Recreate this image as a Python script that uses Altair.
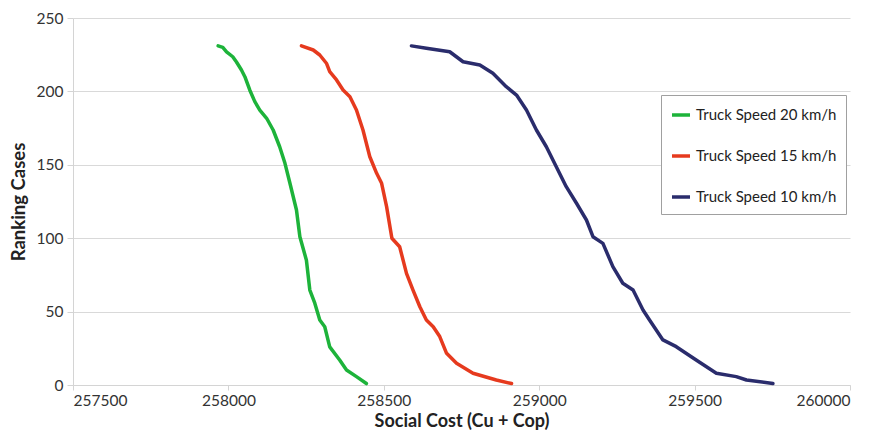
import altair as alt
import pandas as pd

series_names = ["Truck Speed 20 km/h", "Truck Speed 15 km/h", "Truck Speed 10 km/h"]
series_colors = ["#1db33a", "#e63a1e", "#2a2c6c"]

cost_20 = [257967, 257982, 257994, 258014, 258026, 258042, 258053, 258069, 258085, 258101,
           258123, 258144, 258165, 258182, 258198, 258219, 258230, 258251, 258262, 258278,
           258294, 258310, 258326, 258358, 258380, 258412, 258444]
rank_20 = [231, 230, 227, 223.6, 220, 214.6, 210, 200.8, 193, 187.3,
           181.7, 173.7, 162.3, 151, 137.4, 119.2, 101, 85, 64.7, 55.7,
           44.3, 39.7, 26, 17, 10.2, 5.7, 1]

cost_15 = [258235, 258273, 258294, 258316, 258326, 258348, 258369, 258391, 258412, 258433,
           258455, 258477, 258493, 258509, 258526, 258551, 258573, 258594, 258616, 258637,
           258659, 258680, 258702, 258734, 258787, 258862, 258911]
rank_15 = [231, 228.2, 224.8, 219, 213.4, 207.8, 201, 196.4, 187.3, 173.7,
           155.5, 144.2, 137.4, 121.5, 100, 94.2, 76, 64.7, 53.3, 44.3,
           39.7, 33, 21.6, 14.8, 8, 3.4, 1]

cost_10 = [258589, 258637, 258712, 258755, 258809, 258851, 258894, 258927, 258959, 258991,
           259023, 259055, 259087, 259120, 259152, 259173, 259205, 259237, 259269, 259302,
           259334, 259355, 259398, 259441, 259505, 259570, 259634, 259667, 259752]
rank_10 = [231, 229.4, 227, 220.2, 218, 212.3, 203.2, 197.5, 187.3, 173.7,
           162.3, 148.7, 135.1, 123.8, 112.4, 101, 96.5, 80.6, 69.3, 64.7,
           51.1, 44.3, 30.7, 26.1, 17, 8, 5.7, 3.4, 1]

x_ticks = [257500, 258000, 258500, 259000, 259500, 260000]
y_ticks = [0, 50, 100, 150, 200, 250]

rows = []
for name, xs, ys in zip(series_names, [cost_20, cost_15, cost_10], [rank_20, rank_15, rank_10]):
    for i, (xv, yv) in enumerate(zip(xs, ys)):
        rows.append({"series": name, "cost": xv, "rank": yv, "order": i})
df = pd.DataFrame(rows)

font = "Lato"

chart = alt.Chart(df).mark_line(strokeWidth=3.5, strokeJoin="round", strokeCap="round").encode(
    x=alt.X("cost:Q",
            scale=alt.Scale(domain=[257500, 260000], nice=False, zero=False),
            axis=alt.Axis(values=x_ticks, format="d", grid=False, title="Social Cost (Cu + Cop)",
                          titleFontSize=18, titleFont=font, titleFontWeight="bold", titleColor="#222222",
                          labelFont=font, labelFontSize=15.5, labelColor="#333333",
                          domainColor="#d4d4d4", tickColor="#d4d4d4", tickSize=5,
                          labelPadding=3, titlePadding=4)),
    y=alt.Y("rank:Q",
            scale=alt.Scale(domain=[0, 250], nice=False),
            axis=alt.Axis(values=y_ticks, grid=True, gridColor="#d9d9d9", title="Ranking Cases",
                          titleFontSize=18.5, titleFont=font, titleFontWeight="bold", titleColor="#222222",
                          labelFont=font, labelFontSize=15.5, labelColor="#333333",
                          domainColor="#d4d4d4", tickColor="#d4d4d4", tickSize=6,
                          labelPadding=4, titlePadding=8)),
    color=alt.Color("series:N",
                    scale=alt.Scale(domain=series_names, range=series_colors),
                    legend=alt.Legend(title=None, orient="none", legendX=588, legendY=77,
                                      symbolType="stroke", symbolStrokeWidth=3.5, symbolSize=324,
                                      labelFont=font, labelFontSize=15, labelColor="#222222",
                                      strokeColor="#a0a0a0", padding=9, rowPadding=22,
                                      fillColor="white", labelOffset=4)),
    order="order:Q",
).properties(
    width=777, height=367,
    autosize=alt.AutoSizeParams(type="none"),
    padding={"left": 65, "top": 10, "right": 20, "bottom": 50},
).configure_view(stroke=None)

chart.save("out.html", embed_options={"renderer": "svg", "actions": False})
